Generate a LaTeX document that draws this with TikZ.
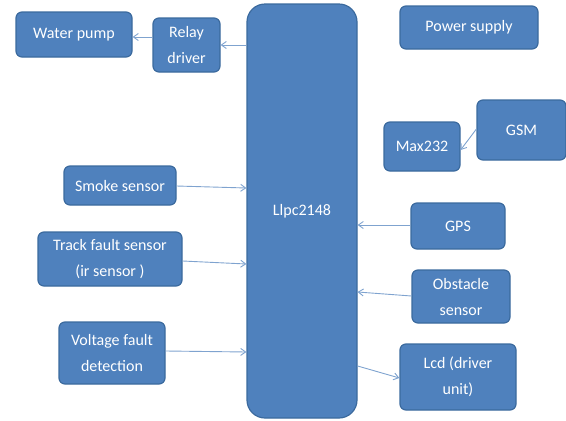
\documentclass[tikz,border=0pt]{standalone}
\usepackage{fontspec}
\setmainfont{Carlito}
\usetikzlibrary{arrows.meta}
\definecolor{boxfill}{HTML}{4F81BD}
\definecolor{boxedge}{HTML}{3B6A9E}
\definecolor{linkc}{HTML}{7FA3CF}
\tikzset{
  blk/.style={draw=boxedge, line width=1.2pt, fill=boxfill, rounded corners=6pt, text=white, align=center, font=\fontsize{16}{26}\selectfont, inner sep=0pt},
  link/.style={draw=linkc, line width=0.9pt, -{Straight Barb[length=5pt,width=7pt]}}
}
\newcommand{\blkbox}[6]{\node[blk, minimum width=#3pt-#2pt, minimum height=#5pt-#4pt] (#1) at ({(#2+#3)/2},{(#4+#5)/2}) {#6};}
\begin{document}
\begin{tikzpicture}[x=1pt,y=-1pt]
\useasboundingbox (0,0) rectangle (566,421);
\node[blk, rounded corners=18pt, minimum width=110pt, minimum height=414pt] (mcu) at (302,211) {Llpc2148};
\blkbox{pump}{16}{132}{12}{57}{Water pump}
\blkbox{relay}{153}{220}{18}{72}{Relay\\driver}
\blkbox{power}{400}{538}{6}{49}{Power supply}
\blkbox{max}{384}{460}{122}{171}{Max232}
\blkbox{gsm}{477}{566}{100}{160}{GSM}
\blkbox{smoke}{64}{176}{166}{205}{Smoke sensor}
\blkbox{track}{38}{182}{232}{286}{Track fault sensor\\(ir sensor )}
\blkbox{volt}{59}{165}{322}{384}{Voltage fault\\detection}
\blkbox{gps}{411}{505}{203}{249}{GPS}
\blkbox{obst}{412}{510}{270}{323}{Obstacle\\sensor}
\blkbox{lcd}{400}{516}{344}{410}{Lcd (driver\\unit)}
\draw[link] (mcu.west |- 0,45) -- (relay.east |- 0,45);
\draw[link] (relay.west |- 0,37) -- (pump.east |- 0,37);
\draw[link] (smoke.east |- 0,186) -- (mcu.west |- 0,188);
\draw[link] (track.east |- 0,261) -- (mcu.west |- 0,264);
\draw[link] (volt.east |- 0,351) -- (mcu.west |- 0,352);
\draw[link] (gps.west |- 0,225) -- (mcu.east |- 0,225);
\draw[link] (obst.west |- 0,296) -- (mcu.east |- 0,292);
\draw[link] (mcu.east |- 0,366) -- (lcd.west |- 0,378);
\draw[link] (gsm.west |- 0,129) -- (max.east |- 0,150);
\end{tikzpicture}
\end{document}
